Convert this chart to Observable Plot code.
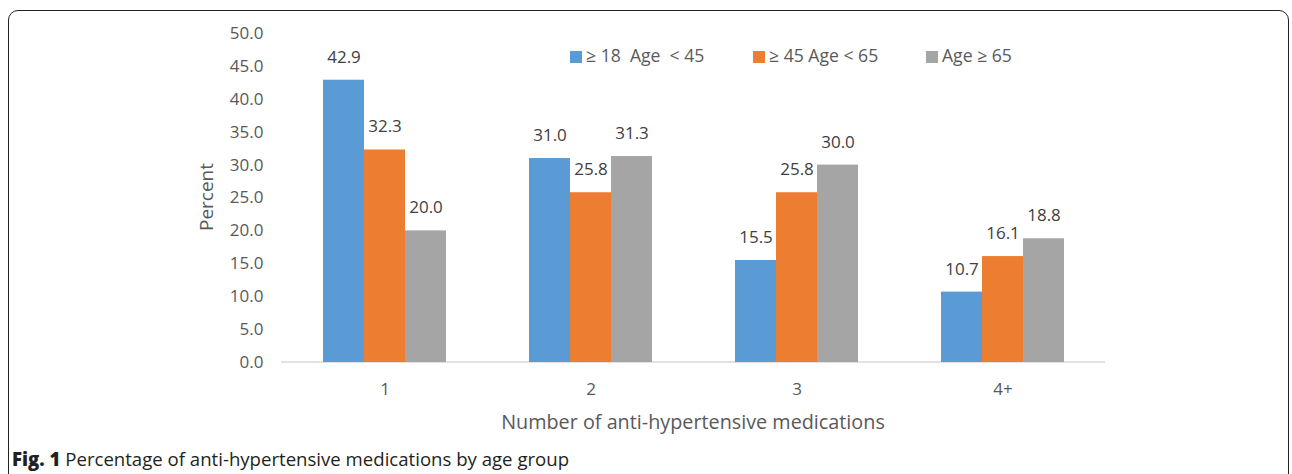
<!DOCTYPE html>
<html>
<head>
<meta charset="utf-8">
<script src="https://cdn.jsdelivr.net/npm/d3@7"></script>
<script src="https://cdn.jsdelivr.net/npm/@observablehq/plot@0.6"></script>
<style>
  html, body { margin: 0; padding: 0; background: #fff; }
  body { width: 1292px; height: 474px; overflow: hidden; position: relative; font-family: "Open Sans", sans-serif; }
  #box { position: absolute; left: 8px; top: 10px; width: 1279px; height: 600px; border: 1.5px solid #222; border-radius: 10px; }
  #chart { position: absolute; left: 0; top: 0; }
  #chart svg text { fill: #595959; }
  #chart svg g[aria-label="text"] text { fill: #404040; }
  .legend { position: absolute; top: 44px; font-size: 17.6px; color: #595959; white-space: pre; line-height: 22px; }
  .legend span.sw { display: inline-block; width: 12px; height: 12px; margin-right: 4px; vertical-align: -1px; }
  #ylabel { position: absolute; left: 206px; top: 197px; transform: translate(-50%, -50%) rotate(-90deg); font-size: 19px; color: #595959; white-space: nowrap; }
  #xlabel { position: absolute; left: 693px; top: 421px; transform: translate(-50%, -50%); font-size: 19.8px; color: #595959; white-space: nowrap; }
  #caption { position: absolute; left: 12px; top: 446px; font-size: 18.6px; color: #231f20; white-space: nowrap; font-family: "Open Sans", sans-serif; }
  #caption b { font-weight: 800; }
</style>
</head>
<body>
<div id="box"></div>
<div id="chart"></div>
<div id="ylabel"></div>
<div id="xlabel"></div>
<div id="legend"></div>
<div id="caption"><b>Fig. 1</b> Percentage of anti-hypertensive medications by age group</div>
<script>
const groups = ["1", "2", "3", "4+"];
const seriesNames = ["\u2265 18  Age  < 45", "\u2265 45 Age < 65", "Age \u2265 65"];
const age18to45 = [42.9, 31.0, 15.5, 10.7];
const age45to65 = [32.3, 25.8, 25.8, 16.1];
const age65plus = [20.0, 31.3, 30.0, 18.8];
const seriesColors = ["#5B9BD5", "#ED7D31", "#A5A5A5"];
const yTicks = [0, 5, 10, 15, 20, 25, 30, 35, 40, 45, 50];
const yLabel = "Percent";
const xLabel = "Number of anti-hypertensive medications";

const seriesValues = [age18to45, age45to65, age65plus];
const data = [];
groups.forEach((g, i) => {
  seriesNames.forEach((s, j) => {
    data.push({group: g, series: s, value: seriesValues[j][i]});
  });
});

const W = 1292, H = 440;
const mL = 281, mR = 187, mT = 33, mB = 78;

const plot = Plot.plot({
  width: W,
  height: H,
  marginLeft: mL,
  marginRight: mR,
  marginTop: mT,
  marginBottom: mB,
  style: {fontFamily: "Open Sans, sans-serif", fontSize: "17px", background: "transparent", overflow: "visible"},
  facet: {data: data, x: "group"},
  fx: {domain: groups, paddingInner: 0.403, paddingOuter: 0.2, axis: "bottom", tickSize: 0, tickPadding: 20, label: null},
  x: {domain: seriesNames, padding: 0, axis: null},
  y: {domain: [0, 50], ticks: yTicks, tickFormat: d => d.toFixed(1), tickSize: 0, tickPadding: 60, label: null},
  color: {domain: seriesNames, range: seriesColors},
  marks: [
    Plot.barY(data, {x: "series", y: "value", fill: "series"}),
    Plot.text(data, {x: "series", y: "value", text: d => d.value.toFixed(1), dy: -23, fontSize: 17})
  ]
});
document.getElementById("chart").appendChild(plot);

// full-width baseline drawn with the plot's own y scale
const y0 = plot.scale("y").apply(0);
d3.select(plot).insert("line", ":first-child")
  .attr("x1", mL).attr("x2", W - mR)
  .attr("y1", y0).attr("y2", y0)
  .attr("stroke", "#D9D9D9").attr("stroke-width", 1.5);

document.getElementById("ylabel").textContent = yLabel;
document.getElementById("xlabel").textContent = xLabel;

const legendLefts = [570, 753, 926];
const legend = document.getElementById("legend");
seriesNames.forEach((s, i) => {
  const d = document.createElement("div");
  d.className = "legend";
  d.style.left = legendLefts[i] + "px";
  d.innerHTML = `<span class="sw" style="background:${seriesColors[i]}"></span>`;
  d.appendChild(document.createTextNode(s));
  legend.appendChild(d);
});
</script>
</body>
</html>
